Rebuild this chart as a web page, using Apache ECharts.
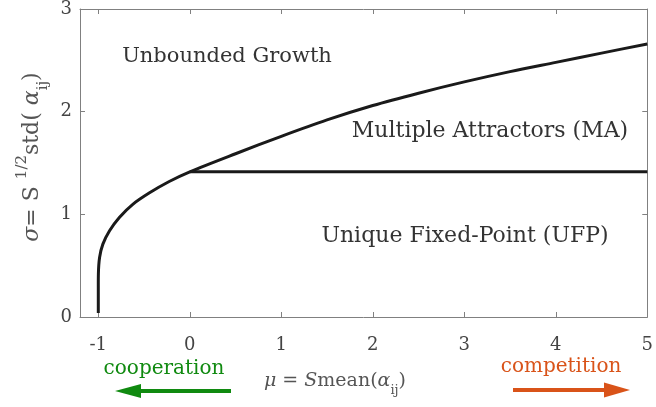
<!DOCTYPE html>
<html>
<head>
<meta charset="utf-8">
<script src="https://cdn.jsdelivr.net/npm/echarts@6/dist/echarts.min.js"></script>
<style>html,body{margin:0;padding:0;background:#fff}#c{width:656px;height:407px}</style>
</head>
<body>
<div id="c"></div>
<script>
// Phase boundary: Unique Fixed-Point / Multiple Attractors -> Unbounded Growth
const boundaryMu    = [-1.0, -1.0, -0.999, -0.986, -0.95, -0.877, -0.77, -0.62, -0.44, -0.225, 0.0, 0.5, 1.0, 1.5, 2.0, 2.5, 3.0, 3.5, 4.0, 4.5, 5.0];
const boundarySigma = [0.04, 0.30, 0.42, 0.58, 0.71, 0.84, 0.97, 1.10, 1.21, 1.32, 1.414, 1.59, 1.76, 1.92, 2.06, 2.18, 2.29, 2.39, 2.48, 2.57, 2.66];
// UFP / MA boundary
const maLowerMu    = [0, 5];
const maLowerSigma = [1.414, 1.414];
// Ticks
const xTicks = [-1, 0, 1, 2, 3, 4, 5];
const yTicks = [0, 1, 2, 3];
const regionLabels = ['Unbounded Growth', 'Multiple Attractors (MA)', 'Unique Fixed-Point (UFP)'];

const FONT = 'DejaVu Serif';
const AX = '#808080';
const chart = echarts.init(document.getElementById('c'), null, {renderer: 'canvas'});

const tickCommon = {show: true, inside: true, length: 5, lineStyle: {color: AX, width: 1}};
const lineCommon = {show: true, onZero: false, lineStyle: {color: AX, width: 1}};
function pairs(xs, ys) { return xs.map((x, i) => [x, ys[i]]); }

const option = {
  animation: false,
  backgroundColor: '#fff',
  grid: {left: 80, right: 4, top: 6, bottom: 90},
  xAxis: [
    {type: 'value', min: -1.2, max: 5, position: 'bottom',
     axisLine: lineCommon,
     axisTick: Object.assign({customValues: xTicks}, tickCommon),
     axisLabel: {customValues: xTicks, fontFamily: FONT, fontSize: 18, color: '#444', margin: 19},
     splitLine: {show: false}},
    {type: 'value', min: -1.2, max: 5, position: 'top',
     axisLine: lineCommon,
     axisTick: Object.assign({customValues: xTicks}, tickCommon),
     axisLabel: {show: false}, splitLine: {show: false}}
  ],
  yAxis: [
    {type: 'value', min: 0, max: 3, interval: 1, position: 'left',
     axisLine: lineCommon,
     axisTick: Object.assign({customValues: yTicks}, tickCommon),
     axisLabel: {customValues: yTicks, fontFamily: FONT, fontSize: 18, color: '#444', margin: 8},
     splitLine: {show: false}},
    {type: 'value', min: 0, max: 3, interval: 1, position: 'right',
     axisLine: lineCommon,
     axisTick: Object.assign({customValues: yTicks}, tickCommon),
     axisLabel: {show: false}, splitLine: {show: false}}
  ],
  series: [
    {type: 'line', data: pairs(boundaryMu, boundarySigma), showSymbol: false, smooth: 0.3,
     lineStyle: {color: '#1a1a1a', width: 3, cap: 'butt', join: 'round'}, z: 3},
    {type: 'line', data: pairs(maLowerMu, maLowerSigma), showSymbol: false,
     lineStyle: {color: '#1a1a1a', width: 3}, z: 3}
  ],
  graphic: [
    {type: 'text', x: 227, y: 57, style: {text: regionLabels[0], font: '21px "DejaVu Serif"', fill: '#333', align: 'center', verticalAlign: 'middle'}},
    {type: 'text', x: 490, y: 131, style: {text: regionLabels[1], font: '22px "DejaVu Serif"', fill: '#333', align: 'center', verticalAlign: 'middle'}},
    {type: 'text', x: 465, y: 236, style: {text: regionLabels[2], font: '22px "DejaVu Serif"', fill: '#333', align: 'center', verticalAlign: 'middle'}},
    // x-axis title
    {type: 'text', x: 335, y: 381, style: {
      text: '{i|μ} = {i|S}mean({i|α}{s|ij})', align: 'center', verticalAlign: 'middle',
      fontFamily: FONT, fontSize: 19, fill: '#555',
      rich: {i: {fontFamily: FONT, fontSize: 19, fontStyle: 'italic', fill: '#555'},
             s: {fontFamily: FONT, fontSize: 13, fill: '#555', padding: [20, 0, 0, 0]}}}},
    // y-axis title (rotated)
    {type: 'text', x: 32, y: 157, rotation: Math.PI / 2, style: {
      text: '{i|σ}= S {p|1/2}std( {i|α}{s|ij})', align: 'center', verticalAlign: 'middle',
      fontFamily: FONT, fontSize: 22, fill: '#555',
      rich: {i: {fontFamily: FONT, fontSize: 22, fontStyle: 'italic', fill: '#555'},
             p: {fontFamily: FONT, fontSize: 15, fill: '#555', padding: [0, 0, 20, 0]},
             s: {fontFamily: FONT, fontSize: 15, fill: '#555', padding: [22, 0, 0, 0]}}}},
    // cooperation
    {type: 'text', x: 164, y: 369, style: {text: 'cooperation', font: '20px "DejaVu Serif"', fill: '#108a10', align: 'center', verticalAlign: 'middle'}},
    {type: 'line', shape: {x1: 231, y1: 391, x2: 136, y2: 391}, style: {stroke: '#108a10', lineWidth: 4}},
    {type: 'polygon', shape: {points: [[115, 391], [141, 384], [141, 398]]}, style: {fill: '#108a10'}},
    // competition
    {type: 'text', x: 561, y: 367, style: {text: 'competition', font: '20px "DejaVu Serif"', fill: '#d95319', align: 'center', verticalAlign: 'middle'}},
    {type: 'line', shape: {x1: 513, y1: 390, x2: 610, y2: 390}, style: {stroke: '#d95319', lineWidth: 4}},
    {type: 'polygon', shape: {points: [[630, 390], [604, 382.5], [604, 397.5]]}, style: {fill: '#d95319'}}
  ]
};
chart.setOption(option);
</script>
</body>
</html>
